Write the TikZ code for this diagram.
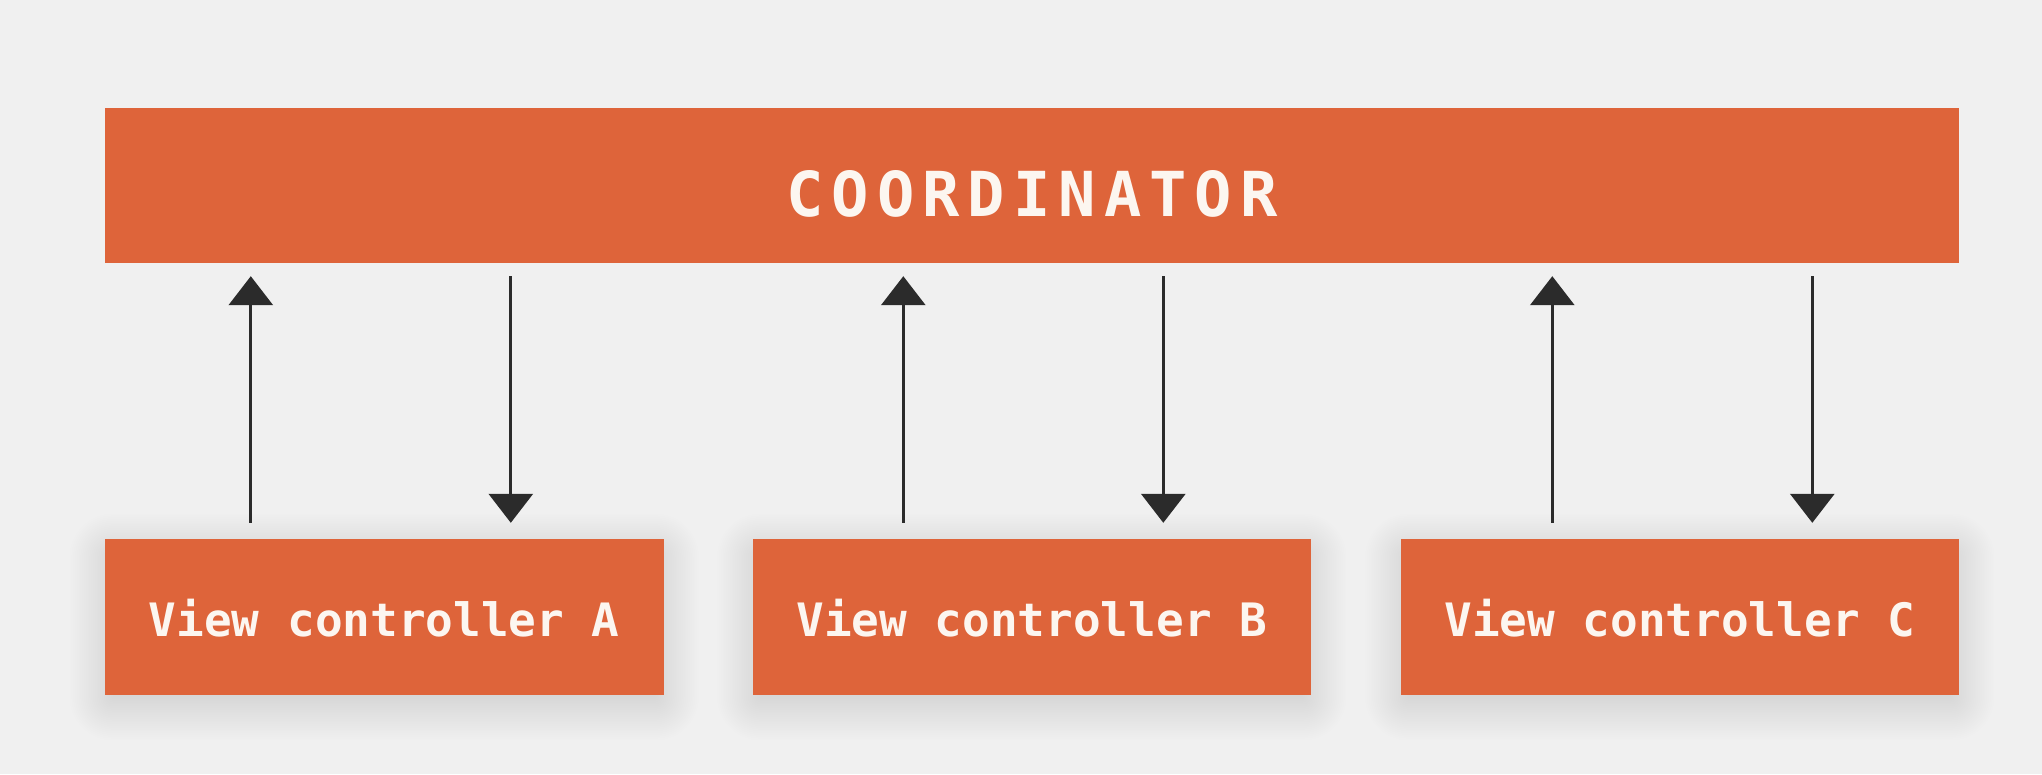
\documentclass[tikz,border=0pt]{standalone}
\usepackage{fontspec}
\setmonofont{DejaVu Sans Mono}
\usetikzlibrary{arrows.meta,calc}
\definecolor{bgc}{HTML}{F0F0F0}
\definecolor{boxc}{HTML}{DE643A}
\definecolor{txtc}{HTML}{FCF6F0}
\definecolor{arrc}{HTML}{2B2B2B}
\pgfdeclarelayer{back}
\pgfdeclarelayer{shade}
\pgfsetlayers{back,shade,main}
\begin{document}
\begin{tikzpicture}[x=1pt,y=-1pt,
  boxbase/.style={fill=boxc, inner sep=0pt, text=txtc, anchor=center},
  topbox/.style={boxbase, minimum width=1854pt, minimum height=155pt,
     text height=61pt, text depth=0pt,
     font=\ttfamily\bfseries\fontsize{62}{70}\selectfont\addfontfeature{LetterSpace=13}},
  vcbox/.style={boxbase, minimum width=558.5pt, minimum height=156pt,
     text height=38pt, text depth=0pt,
     font=\ttfamily\bfseries\fontsize{46}{52}\selectfont},
  flow/.style={draw=arrc, line width=3.1pt, -{Triangle[width=44pt,length=29pt]}, fill=arrc}
]
\begin{pgfonlayer}{back}
\fill[bgc] (0,0) rectangle (2042,774);
\end{pgfonlayer}
\useasboundingbox (0,0) rectangle (2042,774);

\node[topbox] (top) at (1032,185.5) {COORDINATOR};
\node[vcbox] (A) at (384.25,617) {View controller A};
\node[vcbox] (B) at (1031.75,617) {View controller B};
\node[vcbox] (C) at (1679.75,617) {View controller C};

\begin{pgfonlayer}{shade}
\foreach \n in {A,B,C}{
  \foreach \i in {0,...,24}{
    \pgfmathsetmacro{\e}{\i*1.8-8}
    \pgfmathsetmacro{\r}{max(\i*1.8,1)}
    \fill[black, opacity=0.005, rounded corners=\r pt]
      ($(\n.south west)+(-\e pt,-10pt-\e pt)$) rectangle ($(\n.north east)+(\e pt,-10pt+\e pt)$);
  }
}
\end{pgfonlayer}

\foreach \n/\u/\d in {A/146/406, B/151/411, C/152/412}{
  \coordinate (\n-up) at ($(\n.north west)+(\u pt,0pt)$);
  \coordinate (\n-dn) at ($(\n.north west)+(\d pt,0pt)$);
  \coordinate (\n-upt) at (\n-up |- top.south);
  \coordinate (\n-dnt) at (\n-dn |- top.south);
  \draw[flow] ([yshift=16pt]\n-up) -- ([yshift=-13pt]\n-upt);
  \draw[flow] ([yshift=-13pt]\n-dnt) -- ([yshift=16pt]\n-dn);
}
\end{tikzpicture}
\end{document}
